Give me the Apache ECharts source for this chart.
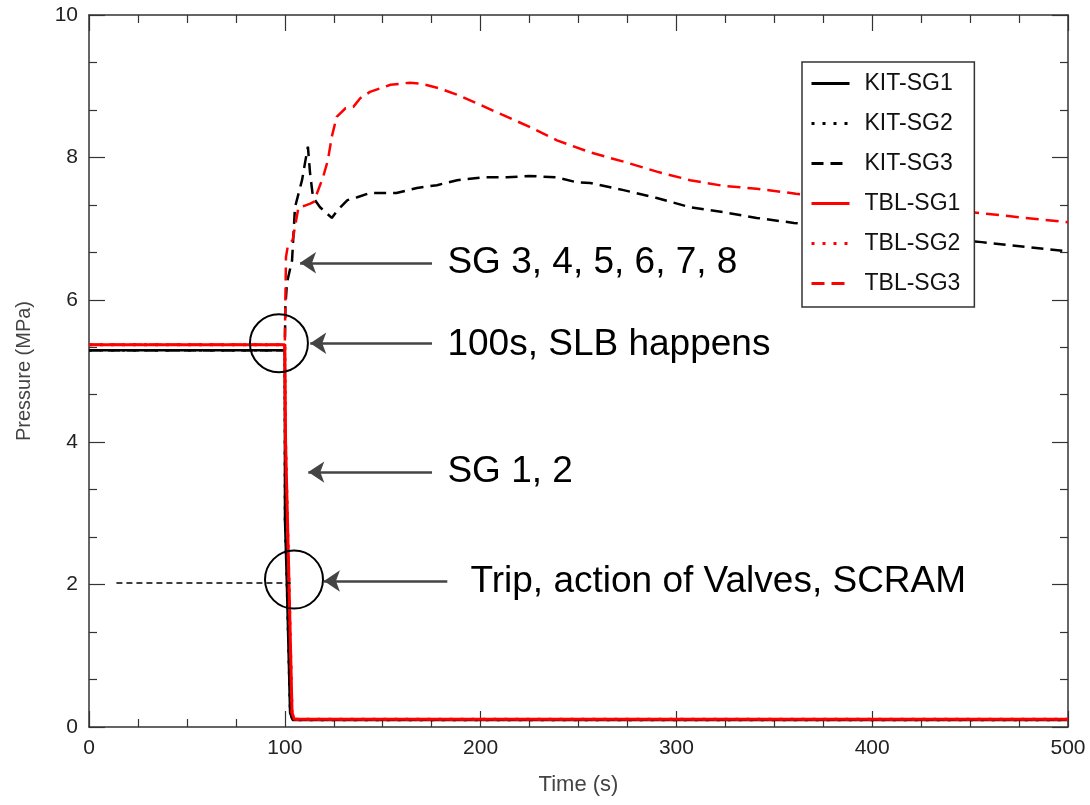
<!DOCTYPE html>
<html>
<head>
<meta charset="utf-8">
<title>Pressure</title>
<script src="https://cdn.jsdelivr.net/npm/echarts@6/dist/echarts.min.js"></script>
<style>
    html, body { margin: 0; padding: 0; background: #fff; }
    #main { width: 1090px; height: 805px; }
</style>
</head>
<body>
<div id="main"></div>
<script>
// time (s), pressure (MPa)
var kitSg1 = [[0, 5.29], [100, 5.29], [100.1, 2.9], [101, 2.07], [102.7, 0.2], [104, 0.1], [500, 0.1]];
var kitSg2 = [[0, 5.29], [100, 5.29], [100.1, 2.9], [101, 2.07], [102.7, 0.2], [104, 0.1], [500, 0.1]];
var kitSg3 = [[0, 5.29], [100, 5.29], [100.3, 5.9], [101.1, 6.24], [103.7, 6.55], [105.2, 7.3], [108.8, 7.68],
    [110.3, 7.92], [111.8, 8.15], [112.9, 7.78], [114.4, 7.44], [118, 7.3], [124, 7.15], [127, 7.26], [132, 7.4],
    [137, 7.44], [143.5, 7.5], [157, 7.5], [167.5, 7.57], [177.7, 7.61], [188, 7.68], [201, 7.72], [213.5, 7.72],
    [225, 7.74], [239, 7.72], [249, 7.65], [256, 7.64], [273, 7.54], [290, 7.43], [307, 7.3], [324, 7.23],
    [341, 7.15], [360, 7.08], [400, 6.97], [430, 6.88], [456, 6.81], [480, 6.74], [500, 6.68]];
var tblSg1 = [[0, 5.37], [100, 5.37], [100.4, 4.0], [102.1, 2.07], [103.7, 0.2], [104.8, 0.11], [500, 0.11]];
var tblSg2 = [[0, 5.37], [100, 5.37], [100.4, 4.0], [102.1, 2.07], [103.7, 0.2], [104.8, 0.11], [500, 0.11]];
var tblSg3 = [[0, 5.37], [100, 5.37], [100.3, 6.0], [100.6, 6.6], [101.5, 6.75], [104, 6.84], [107, 7.3],
    [110, 7.32], [113, 7.35], [115, 7.38], [116.5, 7.5], [119.5, 7.72], [122, 7.96], [124, 8.29], [126.5, 8.57],
    [131, 8.69], [135, 8.71], [138.5, 8.83], [143.5, 8.92], [154, 9.02], [164, 9.05], [170.5, 9.03], [179, 8.97],
    [188, 8.88], [198, 8.76], [211, 8.6], [225, 8.43], [239, 8.24], [256, 8.07], [273, 7.94], [290, 7.8],
    [307, 7.68], [324, 7.6], [341, 7.56], [361, 7.49], [400, 7.38], [430, 7.3], [451, 7.23], [475, 7.16], [500, 7.09]];

var seriesNames = ['KIT-SG1', 'KIT-SG2', 'KIT-SG3', 'TBL-SG1', 'TBL-SG2', 'TBL-SG3'];

// annotations: arrows [tailX, headX, y], circles [x, y], texts [x, y, text]
var arrows = [[175.2, 107.8, 6.52], [175.2, 113, 5.39], [175.2, 112, 3.58], [183, 120, 2.05]];
var circles = [[97, 5.39], [104.7, 2.07]];
var tripLine = [[14, 2.02], [103, 2.02]];
var notes = [[182.8, 6.52, 'SG 3, 4, 5, 6, 7, 8'], [182.8, 5.37, '100s, SLB happens'],
    [182.8, 3.58, 'SG 1, 2'], [194.6, 2.04, 'Trip, action of Valves, SCRAM']];

var font = 'Liberation Sans, Arial, sans-serif';
var myChart = echarts.init(document.getElementById('main'));

function makeAxis(pos, isX, showLabel) {
    var ax = {
        type: 'value',
        position: pos,
        min: 0,
        max: isX ? 500 : 10,
        interval: isX ? 100 : 2,
        axisLine: { show: true, onZero: false, lineStyle: { color: '#333', width: 1.5 } },
        axisTick: { show: true, inside: true, length: 16, lineStyle: { color: '#333', width: 1.2 } },
        minorTick: { show: true, splitNumber: isX ? 4 : 3, length: 8, lineStyle: { color: '#333', width: 1.2 } },
        splitLine: { show: false },
        minorSplitLine: { show: false },
        axisLabel: { show: showLabel, fontSize: 21, color: '#222', fontFamily: font, margin: 11 }
    };
    if (showLabel) {
        ax.name = isX ? 'Time (s)' : 'Pressure (MPa)';
        ax.nameLocation = 'middle';
        ax.nameGap = isX ? 47 : 55;
        ax.nameTextStyle = { fontSize: isX ? 22 : 20, color: '#444', fontFamily: font };
    }
    return ax;
}

function lineSeries(name, data, color, type, width) {
    return {
        name: name,
        type: 'line',
        data: data,
        symbol: 'none',
        showSymbol: false,
        smooth: false,
        lineStyle: { color: color, width: width, type: type },
        itemStyle: { color: color }
    };
}

var markArrows = [];
for (var i = 0; i < arrows.length; i++) {
    markArrows.push([
        { coord: [arrows[i][0], arrows[i][2]], symbol: 'none' },
        { coord: [arrows[i][1], arrows[i][2]], symbol: 'arrow', symbolSize: [16, 16] }
    ]);
}
markArrows.push([
    { coord: tripLine[0], symbol: 'none', lineStyle: { color: '#000', width: 1.5, type: [6, 4] } },
    { coord: tripLine[1], symbol: 'none' }
]);

var markPoints = [];
for (var j = 0; j < circles.length; j++) {
    markPoints.push({
        coord: circles[j], symbol: 'circle', symbolSize: 58,
        itemStyle: { color: 'rgba(0,0,0,0)', borderColor: '#000', borderWidth: 2 },
        label: { show: false }
    });
}
for (var k = 0; k < notes.length; k++) {
    markPoints.push({
        coord: [notes[k][0], notes[k][1]], symbol: 'circle', symbolSize: 1,
        itemStyle: { color: 'rgba(0,0,0,0)' },
        label: {
            show: true, position: 'right', distance: 0, formatter: notes[k][2],
            fontSize: 37, color: '#000', fontFamily: font
        }
    });
}

var option = {
    animation: false,
    backgroundColor: '#fff',
    grid: { left: 89, right: 22, top: 15, bottom: 78 },
    xAxis: [makeAxis('bottom', true, true), makeAxis('top', true, false)],
    yAxis: [makeAxis('left', false, true), makeAxis('right', false, false)],
    legend: {
        data: seriesNames,
        orient: 'vertical',
        left: 802,
        top: 62,
        padding: [10, 14, 12, 8],
        itemGap: 17,
        itemWidth: 38,
        itemHeight: 14,
        itemStyle: { opacity: 0 },
        lineStyle: { width: 3 },
        backgroundColor: '#fff',
        borderColor: '#333',
        borderWidth: 1.5,
        borderRadius: 0,
        textStyle: { fontSize: 23, color: '#111', fontFamily: font, padding: [0, 0, 0, 10] }
    },
    series: [
        lineSeries('KIT-SG1', kitSg1, '#000', 'solid', 2.5),
        lineSeries('KIT-SG2', kitSg2, '#000', [3, 8], 2.5),
        lineSeries('KIT-SG3', kitSg3, '#000', [12, 7], 2.5),
        lineSeries('TBL-SG1', tblSg1, '#ff0000', 'solid', 3),
        lineSeries('TBL-SG2', tblSg2, '#ff0000', [3, 8], 3),
        lineSeries('TBL-SG3', tblSg3, '#ff0000', [13, 7], 2.5),
        {
            type: 'line',
            data: [],
            silent: true,
            markLine: {
                silent: true,
                animation: false,
                label: { show: false },
                lineStyle: { color: '#444', width: 2.5, type: 'solid' },
                data: markArrows
            },
            markPoint: {
                silent: true,
                animation: false,
                data: markPoints
            }
        }
    ]
};

myChart.setOption(option);
</script>
</body>
</html>
